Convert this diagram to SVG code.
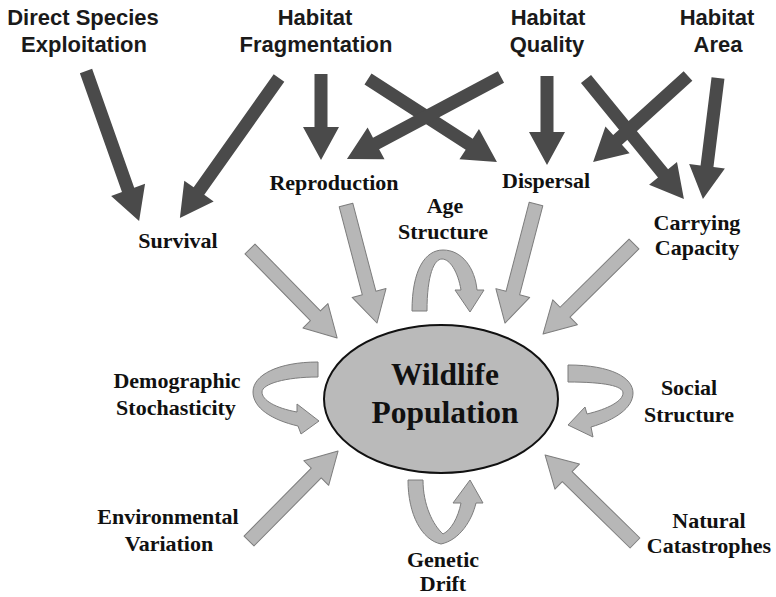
<svg xmlns="http://www.w3.org/2000/svg" width="776" height="597" viewBox="0 0 776 597">
<style>
.src{font-family:"Liberation Sans",Arial,sans-serif;font-weight:bold;font-size:22px;fill:#1a1a1a;text-anchor:middle}
.lbl{font-family:"Liberation Serif","Times New Roman",serif;font-weight:bold;font-size:22px;fill:#111;text-anchor:middle}
.big{font-family:"Liberation Serif","Times New Roman",serif;font-weight:bold;font-size:31.5px;fill:#111;text-anchor:middle}
.dark{fill:#4a4a4a}
.light{fill:#b7b7b7;stroke:#7d7d7d;stroke-width:1;stroke-linejoin:round}
</style>
<rect width="776" height="597" fill="#fff"/>
<g id="connectors">
  <!-- dark arrows -->
  <polygon class="dark" points="0,-6.5 126.1,-6.5 126.1,-18 159.1,0 126.1,18 126.1,6.5 0,6.5" transform="translate(86,71) rotate(70.5)"/>
  <polygon class="dark" points="0,-6.5 138.5,-6.5 138.5,-18 171.5,0 138.5,18 138.5,6.5 0,6.5" transform="translate(279,78) rotate(125.3)"/>
  <polygon class="dark" points="0,-6.5 53,-6.5 53,-18 86,0 53,18 53,6.5 0,6.5" transform="translate(321,74) rotate(90)"/>
  <polygon class="dark" points="0,-6.5 120.4,-6.5 120.4,-18 153.4,0 120.4,18 120.4,6.5 0,6.5" transform="translate(368,79) rotate(32.8)"/>
  <polygon class="dark" points="0,-6.5 141.5,-6.5 141.5,-18 174.5,0 141.5,18 141.5,6.5 0,6.5" transform="translate(501,77) rotate(152)"/>
  <polygon class="dark" points="0,-6.5 56,-6.5 56,-18 89,0 56,18 56,6.5 0,6.5" transform="translate(547,76) rotate(90)"/>
  <polygon class="dark" points="0,-6.5 121.9,-6.5 121.9,-18 154.9,0 121.9,18 121.9,6.5 0,6.5" transform="translate(586,79) rotate(50.8)"/>
  <polygon class="dark" points="0,-6.5 95.1,-6.5 95.1,-18 128.1,0 95.1,18 95.1,6.5 0,6.5" transform="translate(688,76) rotate(137.8)"/>
  <polygon class="dark" points="0,-6.5 88.9,-6.5 88.9,-18 121.9,0 88.9,18 88.9,6.5 0,6.5" transform="translate(718,78) rotate(97.1)"/>
  <!-- light arrows -->
  <polygon class="light" points="0,-7 93.5,-7 93.5,-17.5 124.5,0 93.5,17.5 93.5,7 0,7" transform="translate(250,249) rotate(45.6)"/>
  <polygon class="light" points="0,-7 91,-7 91,-17.5 122,0 91,17.5 91,7 0,7" transform="translate(346,205) rotate(75.3)"/>
  <polygon class="light" points="0,-7 92,-7 92,-17.5 123,0 92,17.5 92,7 0,7" transform="translate(536,204) rotate(104.6)"/>
  <polygon class="light" points="0,-7 97,-7 97,-17.5 128,0 97,17.5 97,7 0,7" transform="translate(634,244) rotate(135.3)"/>
  <polygon class="light" points="0,-7 95.6,-7 95.6,-17.5 126.6,0 95.6,17.5 95.6,7 0,7" transform="translate(249,541) rotate(-45.3)"/>
  <polygon class="light" points="0,-7 94.9,-7 94.9,-17.5 125.9,0 94.9,17.5 94.9,7 0,7" transform="translate(635,543) rotate(-135.6)"/>
  <!-- curved self arrows -->
  <path class="light" d="M 412 311 C 412 270 425 250 443 250 C 462 250 475 268 477 290 L 484 290 L 470 312 L 455 290 L 461 290 C 458 272 450 259 442 259 C 434 259 427 275 427 311 Z"/>
  <path class="light" d="M 318 362 C 278 362 253 375 253 392 C 253 408 272 420 298 426 L 301 434 L 319 421 L 297 404 L 297 412 C 275 408 262 400 262 392 C 262 384 285 377 318 377 Z"/>
  <path class="light" d="M 568 365 C 612 365 633 378 633 393 C 633 408 615 420 591 427 L 593 437 L 568 425 L 585 407 L 587 414 C 608 409 623 401 623 393 C 623 386 605 382 568 382 Z"/>
  <path class="light" d="M 408 480 C 408 515 422 540 441 544 C 460 540 472 520 476 503 L 483 503 L 470 480 L 453 503 L 461 503 C 458 518 451 530 443 534 C 433 525 423 505 423 480 Z"/>
</g>
<g id="wildlife-population">
  <ellipse cx="441" cy="399" rx="117" ry="74" fill="#bababa" stroke="#111" stroke-width="2"/>
  <text class="big" x="445" y="385">Wildlife</text>
  <text class="big" x="445" y="423">Population</text>
</g>
<g id="direct-species-exploitation"><text class="src" x="83" y="25">Direct Species</text><text class="src" x="84" y="52">Exploitation</text></g>
<g id="habitat-fragmentation"><text class="src" x="315" y="25">Habitat</text><text class="src" x="316" y="52">Fragmentation</text></g>
<g id="habitat-quality"><text class="src" x="548" y="25">Habitat</text><text class="src" x="547" y="52">Quality</text></g>
<g id="habitat-area"><text class="src" x="717" y="25">Habitat</text><text class="src" x="718" y="52">Area</text></g>
<g id="survival"><text class="lbl" x="178" y="248">Survival</text></g>
<g id="reproduction"><text class="lbl" x="334" y="190">Reproduction</text></g>
<g id="dispersal"><text class="lbl" x="546" y="188">Dispersal</text></g>
<g id="age-structure"><text class="lbl" x="445" y="213">Age</text><text class="lbl" x="443" y="239">Structure</text></g>
<g id="carrying-capacity"><text class="lbl" x="697" y="230">Carrying</text><text class="lbl" x="697" y="255">Capacity</text></g>
<g id="demographic-stochasticity"><text class="lbl" x="177" y="388">Demographic</text><text class="lbl" x="176" y="415">Stochasticity</text></g>
<g id="social-structure"><text class="lbl" x="689" y="395">Social</text><text class="lbl" x="689" y="422">Structure</text></g>
<g id="environmental-variation"><text class="lbl" x="168" y="524">Environmental</text><text class="lbl" x="169" y="551">Variation</text></g>
<g id="genetic-drift"><text class="lbl" x="443" y="567">Genetic</text><text class="lbl" x="443" y="591">Drift</text></g>
<g id="natural-catastrophes"><text class="lbl" x="709" y="528">Natural</text><text class="lbl" x="709" y="553">Catastrophes</text></g>
</svg>
